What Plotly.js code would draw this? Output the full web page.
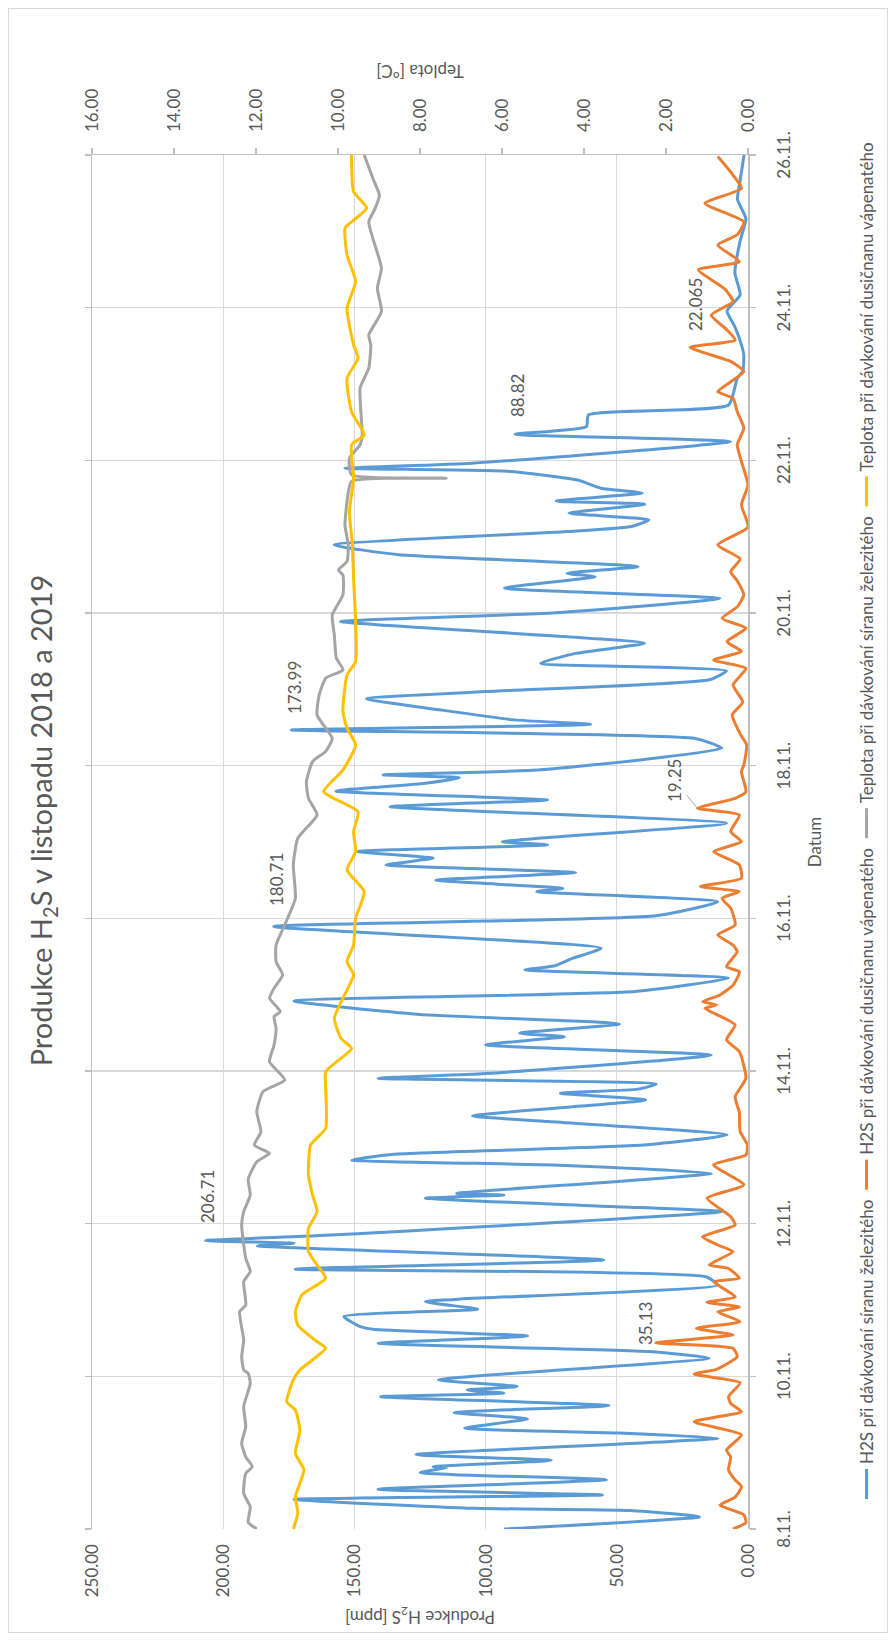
<!DOCTYPE html>
<html>
<head>
<meta charset="utf-8">
<script src="https://cdn.plot.ly/plotly-3.0.1.min.js"></script>
<style>
  html, body { margin:0; padding:0; background:#fff; overflow:hidden; width:894px; height:1641px; }
  #wrap { position:absolute; left:0; top:0; width:1641px; height:894px;
          transform-origin:0 0; transform:translateY(1641px) rotate(-90deg); }
  #chart { position:absolute; left:0; top:0; width:1641px; height:894px; }
  #frame { position:absolute; left:8px; top:8px; width:1625px; height:880px;
           border:1.5px solid #d9d9d9; box-sizing:border-box; pointer-events:none; }
</style>
</head>
<body>
<div id="wrap"><div id="chart"></div><div id="frame"></div></div>
<script>
// ---- data (x = hours since 8.11. 00:00) ----
const dayLabels = ['8.11.','10.11.','12.11.','14.11.','16.11.','18.11.','20.11.','22.11.','24.11.','26.11.'];
const dayTickHours = [0,48,96,144,192,240,288,336,384,432];

const sulfHours = [0,3.8,5.8,6.5,9.3,10.7,12.5,15.5,17.7,19.3,19.6,21.6,23.4,28.5,30.2,31.7,34.6,36.6,38.8,41.6,42.7,43.7,44.8,46.9,53.7,55.8,58.4,
  60.7,62.8,63.7,66.8,69.1,71.5,76.7,79.3,81.7,84.6,89.0,89.8,90.7,92.2,99.8,101.4,104.0,105.0,105.5,111.8,114.4,116.0,117.8,120.7,123.9,
  128.1,129.9,134.9,137.0,138.3,139.9,141.7,143.2,149.0,152.2,154.8,155.9,158.8,161.8,166.0,169.0,173.2,175.8,177.0,179.4,182.6,
  189.4,192.8,197.2,200.4,201.4,204.0,206.4,208.8,210.9,213.0,215.1,216.1,221.9,227.1,229.2,232.0,234.5,236.2,237.1,238.7,245.5,
  248.6,251.2,253.0,254.4,257.5,261.0,263.3,267.0,269.8,272.2,275.3,278.5,282.1,285.3,288.0,292.6,295.8,299.4,300.5,302.6,306.3,309.4,
  313.6,315.2,317.3,319.4,322.2,323.2,325.7,327.2,329.8,332.5,333.5,335.1,341.9,344.2,346.6,350.3,353.4,361.8,364.0,369.1,
  372.3,378,383,388,395,405,412,418,424,432];
const sulfH2S = [93,18.5,45,104,173,55.5,141,54,125,115,120,75,126.5,11.5,50,108,84,112,53,140,93,107,88,118,14.8,37.8,141,
  84,143,148,154,103,123,11.5,16,172.5,55,187,173,206.71,165,10,52,123,93,111,14,72,151,135,40,8,
  76,105,39,71.5,42,35,141,100,14,100,70,87,49,125,173,43,7.4,85,74,67,56,
  180.71,35,11.5,80.5,70.6,119,65.7,138,120,148.7,76.4,93.7,8.2,136.4,76.4,157,123,110,139,79,10,
  20.5,173.99,60,89,117,145.4,100,14.8,8.2,79,65.7,39.4,98.6,155.3,74.8,10.7,92.8,58.3,69,41.9,133,157.7,
  69,44.4,37.8,68.2,39.4,73.1,40.3,55.9,64.9,90.4,153.6,105.2,6.6,88.82,61.6,60.8,7.4,4.1,2,1.6,
  2.5,5,8,3,5,3,0.8,4,3,1.5];

const nitrHours = [0,2,4.5,7.5,10,13.3,15.4,18.6,22.7,24.8,29.6,33.7,36.9,39.5,41.6,46.0,48.7,50.2,54.2,56.8,58.5,
  61.0,63.1,65.2,68.3,69.8,71.3,73.0,77.8,78.8,81.9,83.0,87.2,89.3,91.9,95.6,98.2,104.0,108.2,114.5,117.6,120.7,
  125,131,135.9,141.7,150.1,153.8,158.5,160.6,163.7,164.8,165.8,167.9,171.0,175.2,176.8,181.5,183.6,186.8,189.9,195.2,198.3,
  200.4,202.0,204.6,208.8,213.0,216.1,219.3,224.5,226.6,229.7,231.8,238.1,240.2,246.5,250,256,260,265.4,270.6,273.2,275.9,279.0,
  283.2,286.3,290,293.7,298,301.0,305,309.4,315,322,328.3,335.6,340.9,346.1,351.3,355.5,357.6,363.9,367.1,371.5,373.8,377,
  381.7,385.9,390,395.9,398.5,403.7,407,411.0,416.8,421.5,426,431.5];
const nitrH2S = [5.7,0.8,1.6,10.7,4.9,2.5,4.9,7.4,6.6,8.2,2.5,20.5,2.5,6.6,7.4,3,20.5,12,4.1,5.7,35.13,
  5.7,19.7,3,11.5,3.3,15.6,4.9,13.1,3.3,7.4,14.8,5.7,11.5,17.3,4.9,6.6,15.6,1.6,13.1,0.8,0.2,
  3,3.3,4.9,0.8,3.3,8.2,4.9,9,16.4,12,17.3,10.7,5.7,3.3,8.2,4.1,5.7,11.5,4.9,6.6,9.9,
  3.3,18.1,2.5,3.3,13.1,2.5,6.6,3.3,19.25,4.9,0.8,2.5,1.6,0.5,3,6,2,5.7,0.8,13.1,2.5,8,
  0.8,9.9,4,1.6,4,6.6,3,11.5,0,2.5,0,2.5,4.1,1.6,4.1,5.7,11.5,1.6,6.6,22.065,4.9,8,
  14,5.7,9,18.9,3.3,11.5,4,1.6,16.4,2.5,6,11.5];

const sulfTempHours = [0,2.1,7,11.2,17.5,19.6,22.7,26.9,32.2,38.5,45.8,48.9,50,54.2,59.4,68.3,70.4,77.8,81,85.1,95.6,99.8,105,110,
  115.5,118.1,120.7,124.9,131.2,137.5,141.2,146.9,152.2,157.4,161.1,162.7,166.9,170,174.2,178.4,183.6,189.9,198.3,208.8,217.2,
  224.5,229.7,235,241.3,244.5,248.6,255.9,262.2,267.5,270.1,273.8,281.1,287.4,293.7,299.9,301.5,304.2,309.4,315.7,323,329.4,330.4,
  331.4,336.7,340.9,344,358.7,365,372.3,375.4,382.8,390.1,396.4,405.8,411,415.3,419.4,424.7,432];
const sulfTemp = [11.98,12.19,12.14,12.3,12.25,12.09,12.25,12.35,12.25,12.3,12.14,12.19,12.3,12.35,12.3,12.4,12.25,12.3,12.14,12.25,12.35,12.3,12.14,12.19,
  11.98,11.67,12.04,11.88,11.98,11.83,11.3,11.67,11.56,11.51,11.56,11.41,11.67,11.56,11.35,11.51,11.51,11.3,11.04,11.09,10.98,
  10.51,10.72,10.77,10.62,10.3,10.14,10.51,10.46,10.3,9.88,10.04,10.09,10.14,9.88,9.88,9.99,9.78,9.75,9.83,9.78,9.67,7.36,
  9.67,9.72,9.46,9.41,9.46,9.25,9.2,9.25,8.94,9.04,8.94,9.15,9.25,9.09,8.99,9.15,9.36];

const nitrTempHours = [0,5.2,10.2,18.6,23.8,31.1,37.4,40,46.9,50,56.8,58.9,64.1,68.3,73.6,78.8,83,87.2,94.5,99.8,105,111.3,120.7,
  126,138.6,143.8,151.1,154.3,160.6,166.9,174.2,178.4,183.6,192,200.4,207.2,213,219.3,225.5,231.8,238.6,246.5,251.8,257,268.5,
  272.7,285.3,298.9,309.4,319.9,330.4,340.9,344,351.3,361.8,368.1,372.3,383.8,392.2,400.6,409,411,415.3,420.5,432];
const nitrTemp = [11.09,10.98,11.04,10.83,11.04,10.93,11.04,11.25,11.09,10.93,10.3,10.51,10.98,11.04,10.88,10.3,10.51,10.72,10.72,10.51,10.62,10.72,10.67,
  10.3,10.3,10.3,9.67,9.93,10.09,9.88,9.62,9.78,9.62,9.57,9.36,9.78,9.57,9.62,9.51,10.35,9.88,9.57,9.78,9.88,9.78,
  9.57,9.57,9.62,9.65,9.72,9.62,9.67,9.36,9.67,9.78,9.51,9.62,9.78,9.57,9.78,9.83,9.67,9.3,9.62,9.67];

const seriesNames = ['H2S při dávkování síranu železitého','H2S při dávkování dusičnanu vápenatého',
  'Teplota při dávkování síranu železitého','Teplota při dávkování dusičnanu vápenatého'];

// data labels: which point of which series is labelled
const labelSeries = ['sulf','sulf','sulf','sulf','nitr','nitr','nitr'];
const labelHours  = [90.7,189.4,251.2,344.2,58.5,226.6,371.5];

// ---- styling ----
const textCol = '#595959';
const FONT = 'Lato, "Open Sans", "DejaVu Sans", sans-serif';
const labelShift = [[44,-2],[47,-3],[43,-3],[39,-3],[19,10],[28,23],[43,-5]];

const lineOpts = (c) => ({color:c, width:3, shape:'spline', smoothing:0.5});
const traces = [
  {x:sulfHours, y:sulfH2S, name:seriesNames[0], type:'scatter', mode:'lines', line:lineOpts('#5b9bd5'), yaxis:'y'},
  {x:nitrHours, y:nitrH2S, name:seriesNames[1], type:'scatter', mode:'lines', line:lineOpts('#ed7d31'), yaxis:'y'},
  {x:sulfTempHours, y:sulfTemp, name:seriesNames[2], type:'scatter', mode:'lines', line:lineOpts('#a5a5a5'), yaxis:'y2'},
  {x:nitrTempHours, y:nitrTemp, name:seriesNames[3], type:'scatter', mode:'lines', line:lineOpts('#ffc000'), yaxis:'y2'}
];

const seriesData = {sulf:[sulfHours,sulfH2S], nitr:[nitrHours,nitrH2S]};
const annotations = labelSeries.map((s,i) => {
  const [hx, vy] = seriesData[s];
  const idx = hx.indexOf(labelHours[i]);
  const val = vy[idx];
  const a = {x:hx[idx], y:val, xref:'x', yref:'y', text:String(val),
    font:{family:FONT, size:17, color:textCol}, showarrow:false,
    xshift:labelShift[i][0], yshift:labelShift[i][1]};
  if (i === 5) {
    Object.assign(a, {showarrow:true, arrowhead:0, arrowwidth:1, arrowcolor:'#a6a6a6',
      ax:labelShift[i][0], ay:-labelShift[i][1], xshift:0, yshift:0, standoff:0});
  }
  return a;
});

const layout = {
  width:1641, height:894,
  margin:{l:112, r:155, t:92, b:146},
  paper_bgcolor:'rgba(0,0,0,0)', plot_bgcolor:'#fff',
  font:{family:FONT, color:textCol, size:17},
  showlegend:true,
  title:{text:'Produkce H<sub>2</sub>S v listopadu 2018 a 2019', font:{family:FONT, size:29, color:textCol},
    x:0.5, xref:'container', xanchor:'center', y:1-42/894, yref:'container', yanchor:'middle'},
  xaxis:{range:[0,432], tickmode:'array', tickvals:dayTickHours, ticktext:dayLabels,
    showgrid:true, gridcolor:'#d9d9d9', gridwidth:1.3, zeroline:false,
    showline:true, linecolor:'#bfbfbf', linewidth:1.5, mirror:'ticks',
    ticks:'outside', ticklen:6, tickcolor:'#bfbfbf', tickwidth:1.3, ticklabelstandoff:14,
    tickfont:{family:FONT, size:17, color:textCol},
    title:{text:'Datum', font:{family:FONT, size:17, color:textCol}, standoff:16}},
  yaxis:{range:[0,250], dtick:50, tickformat:'.2f', showgrid:true, gridcolor:'#d9d9d9', gridwidth:1.3,
    zeroline:false, showline:false, ticks:'', ticklabelstandoff:14,
    tickfont:{family:FONT, size:17, color:textCol},
    title:{text:'Produkce H<sub>2</sub>S [ppm]', font:{family:FONT, size:17, color:textCol}, standoff:8}},
  yaxis2:{range:[0,16], dtick:2, tickformat:'.2f', overlaying:'y', side:'right', showgrid:false, zeroline:false,
    showline:true, linecolor:'#bfbfbf', linewidth:1.5, ticks:'outside', ticklen:6, tickcolor:'#bfbfbf', tickwidth:1.3,
    ticklabelstandoff:12, tickfont:{family:FONT, size:17, color:textCol},
    title:{text:'Teplota [°C]', font:{family:FONT, size:17, color:textCol}, standoff:12}},
  legend:{orientation:'h', x:0.5, xref:'container', xanchor:'center', y:(894-867)/894, yref:'container', yanchor:'middle',
    font:{family:FONT, size:17, color:textCol}, itemwidth:30, traceorder:'normal'},
  annotations:annotations
};

Plotly.newPlot('chart', traces, layout, {displayModeBar:false, staticPlot:true});
</script>
</body>
</html>
